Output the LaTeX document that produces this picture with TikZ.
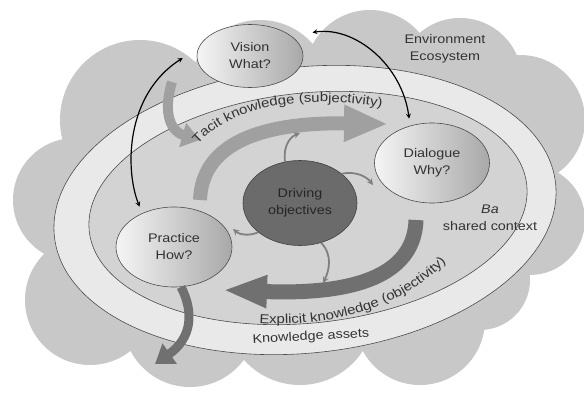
\documentclass[tikz,border=0pt]{standalone}
\usepackage{fontspec}
\setmainfont{Liberation Sans}[FakeStretch=1.15]
\usetikzlibrary{shapes.geometric,arrows.meta,decorations.text}

\definecolor{cloud}{HTML}{C8C8C8}
\definecolor{ring}{HTML}{E9E9E9}
\definecolor{ba}{HTML}{D3D3D3}
\definecolor{tacit}{HTML}{A0A0A0}
\definecolor{explicit}{HTML}{707070}

\tikzset{
  idea/.style={ellipse, draw=black!70, line width=0.6pt, left color=gray!8,
    right color=gray!68, text=black!80, align=center, inner sep=0pt},
  band/.style={line width=#1, line cap=butt},
  link/.style={stealth-stealth, line width=1.2pt, black},
  twist/.style={-stealth, line width=1.8pt, black!50},
}

\begin{document}
\begin{tikzpicture}[x=1pt, y=-1pt, font=\fontsize{12.5}{17}\selectfont]
  \useasboundingbox[fill=white] (0,0) rectangle (584,393);
  % environment cloud
  \fill[cloud] (140,120) circle (80) (75,200) circle (62) (90,300) circle (65)
    (190,320) circle (67) (300,310) circle (75) (420,320) circle (65)
    (480,280) circle (50) (530,220) circle (55) (520,120) circle (65)
    (460,80) circle (62) (370,75) circle (65) (260,90) circle (70)
    (310,210) circle (150);
  % knowledge assets and ba
  \draw[black!70, line width=0.6pt, fill=ring, rotate around={6:(305,210)}]
    (305,210) ellipse [x radius=252, y radius=143];
  \draw[black!70, line width=0.6pt, fill=ba, rotate around={6:(308,208)}]
    (308,208) ellipse [x radius=220, y radius=115];

  % wide arrows
  \draw[band=14pt, tacit, -{Triangle[width=34pt,length=44pt]}]
    (200,200) .. controls (202,145) and (258,122) .. (388,124);
  \draw[band=15pt, explicit, -{Triangle[width=30pt,length=44pt]}]
    (416,220) .. controls (414,286) and (330,294) .. (223,290);
  \draw[band=10pt, tacit, -{Triangle[width=24pt,length=18pt]}]
    (172,82) .. controls (162,115) and (172,132) .. (200,140);

  \node[idea, minimum width=106pt, minimum height=63pt] (vision) at (250,56) {Vision\\What?};
  \node[idea, minimum width=115pt, minimum height=80pt] (dialogue) at (432,163) {Dialogue\\Why?};
  \node[idea, minimum width=116pt, minimum height=80pt] (practice) at (174,247) {Practice\\How?};
  \node[ellipse, draw=black!75, line width=0.6pt, fill=black!58, text=black!85, align=center,
    inner sep=0pt, minimum width=114pt, minimum height=85pt] (driving) at (300,203) {Driving\\objectives};

  \draw[band=9pt, explicit, -{Triangle[width=24pt,length=18pt]}]
    (practice.280) .. controls (194,312) and (192,338) .. (155,364);

  % driving objectives turn the cycle
  \draw[twist] (driving.110) .. controls (283,146) and (290,137) .. (300,133);
  \draw[twist] (driving.35) .. controls (355,171) and (366,176) .. (373,185);
  \draw[twist] (driving.298) .. controls (333,255) and (329,271) .. (323,283);
  \draw[twist] (driving.215) .. controls (250,236) and (240,235) .. (233,229);

  \draw[link] ([shift={(17,-7)}]vision.20) .. controls (355,26) and (402,65) .. ([shift={(-5,-6)}]dialogue.115);
  \draw[link] ([shift={(-14,2)}]vision.west) .. controls (125,95) and (125,170) .. ([shift={(-9,-4)}]practice.125);

  % labels
  \node[text=black!80, align=center] (env) at (445,49) {Environment\\Ecosystem};
  \node[text=black!80, align=center] (ba) at (490,218) {\textit{Ba}\\shared context};
  \node[text=black!80, rotate=3] (assets) at (311,337) {Knowledge assets};
  \path[decorate, decoration={text along path, text align=center, text color=black!80,
    text={|\fontsize{13}{15}\selectfont|Tacit knowledge (subjectivity)}}]
    (189,156) .. controls (218,108) and (300,90) .. (396,110);
  \path[decorate, decoration={text along path, text align=center, text color=black!80,
    text={|\fontsize{13}{15}\selectfont|Explicit knowledge (objectivity)}}]
    (246,322) .. controls (320,330) and (405,312) .. (455,252);
\end{tikzpicture}
\end{document}
